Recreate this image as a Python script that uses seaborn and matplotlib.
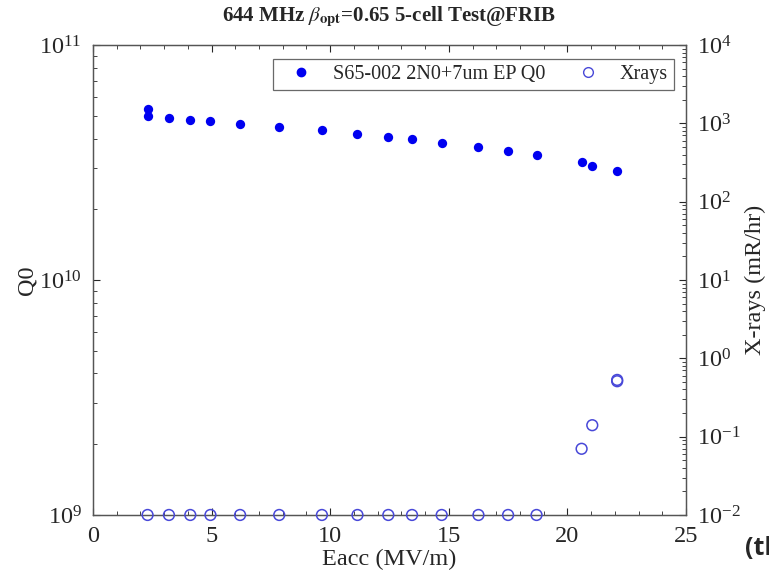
import matplotlib
matplotlib.use("Agg")
import matplotlib.pyplot as plt
import seaborn as sns
import pandas as pd
from matplotlib.ticker import MultipleLocator, LogLocator
from matplotlib.lines import Line2D

# Q0 vs Eacc (S65-002 2N0+7um EP)
q0_eacc = [2.3, 2.3, 3.2, 4.1, 4.95, 6.2, 7.85, 9.65, 11.15, 12.45, 13.45,
           14.7, 16.25, 17.5, 18.7, 20.6, 21.05, 22.1]
q0_vals = [5.32e10, 5.0e10, 4.87e10, 4.81e10, 4.73e10, 4.62e10, 4.47e10, 4.33e10,
           4.19e10, 4.07e10, 3.97e10, 3.84e10, 3.68e10, 3.53e10, 3.41e10,
           3.17e10, 3.07e10, 2.90e10]

# X-ray readings (mR/hr)
xr_eacc = [2.3, 3.2, 4.1, 4.95, 6.2, 7.85, 9.65, 11.15, 12.45, 13.45,
           14.7, 16.25, 17.5, 18.7, 20.6, 21.05, 22.1, 22.1]
xr_vals = [0.01, 0.01, 0.01, 0.01, 0.01, 0.01, 0.01, 0.01, 0.01, 0.01,
           0.01, 0.01, 0.01, 0.01, 0.07, 0.14, 0.53, 0.51]

q0_df = pd.DataFrame({"Eacc": q0_eacc, "Q0": q0_vals})
xr_df = pd.DataFrame({"Eacc": xr_eacc, "Xrays": xr_vals})

sns.set_style("ticks")
plt.rcParams["font.family"] = ["Liberation Serif", "DejaVu Serif"]
plt.rcParams["mathtext.fontset"] = "stix"
plt.rcParams["xtick.direction"] = "in"
plt.rcParams["ytick.direction"] = "in"

fig = plt.figure(figsize=(7.69, 5.77), dpi=100)
ax = fig.add_axes([0.121, 0.1075, 0.771, 0.8145])
q0_blue = "#0000f0"
xr_blue = "#4848d8"

sns.scatterplot(data=q0_df, x="Eacc", y="Q0", ax=ax, color=q0_blue, s=45,
                edgecolor=q0_blue, linewidth=0, legend=False, zorder=3)
ax.set_yscale("log")
ax.set_xlim(0, 25)
ax.set_ylim(1e9, 1e11)
ax.xaxis.set_major_locator(MultipleLocator(5))
ax.xaxis.set_minor_locator(MultipleLocator(1))
ax.tick_params(axis="x", which="both", top=True)
ax.tick_params(which="major", length=5, labelsize=17.5, width=0.8, pad=8)
ax.tick_params(which="minor", length=3, width=0.6)
ax.set_xlabel("Eacc (MV/m)", fontsize=17.5, labelpad=1)
ax.set_ylabel("Q0", fontsize=17.5, labelpad=1)

ax2 = ax.twinx()
sns.scatterplot(data=xr_df, x="Eacc", y="Xrays", ax=ax2, facecolor="none",
                edgecolor=xr_blue, s=60, linewidth=1.1, legend=False,
                clip_on=False, zorder=3)
ax2.set_yscale("log")
ax2.set_ylim(1e-2, 1e4)
ax2.yaxis.set_major_locator(LogLocator(base=10, numticks=10))
ax2.yaxis.set_minor_locator(LogLocator(base=10, subs=range(2, 10), numticks=10))
ax2.tick_params(which="major", length=5, labelsize=17.5, width=0.8, pad=8)
ax2.tick_params(which="minor", length=3, width=0.6)
ax2.set_ylabel("X-rays (mR/hr)", fontsize=17.5, labelpad=3)

for a in (ax, ax2):
    for sp in a.spines.values():
        sp.set_color("#555555")
        sp.set_linewidth(0.9)

ax.set_title(r"644 MHz $\beta_{\mathbf{opt}}$=0.65 5-cell Test@FRIB",
             fontsize=15, fontweight="bold", pad=17)

handles = [
    Line2D([], [], marker="o", linestyle="none", color=q0_blue, markersize=6),
    Line2D([], [], marker="o", linestyle="none", markerfacecolor="none",
           markeredgecolor=xr_blue, markersize=7),
]
leg = ax2.legend(handles, ["S65-002 2N0+7um EP Q0", "Xrays"], ncol=2,
                 loc="upper right", bbox_to_anchor=(0.987, 0.979), fontsize=14.5,
                 frameon=True, fancybox=False, borderpad=0.3,
                 handletextpad=0.5, columnspacing=1.0, handlelength=2.2,
                 borderaxespad=0.2)
leg.get_frame().set_edgecolor("#444444")
leg.get_frame().set_linewidth(0.9)

fig.text(0.969, 0.05, "(th", fontsize=18, fontweight="bold",
         family=["Open Sans", "DejaVu Sans"], va="center", ha="left")

fig.savefig("out.png", dpi=100)
